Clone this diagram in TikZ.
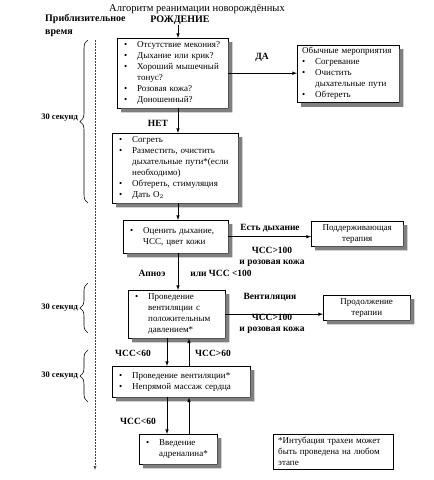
\documentclass[tikz,border=0pt]{standalone}
\usepackage{fontspec}
\setmainfont{Liberation Serif}
\usetikzlibrary{arrows,decorations.pathreplacing}

\newcommand{\blist}[1]{\begin{tabular}{@{}p{13pt}@{}l@{}}#1\end{tabular}}

\begin{document}
\begin{tikzpicture}[x=1pt,y=-1pt,>=latex,
    box/.style={draw,fill=white,anchor=north west,inner xsep=7pt,inner ysep=2pt,
      font=\fontsize{9}{11}\selectfont},
    shadowfill/.style={fill=black!50},
    lbl/.style={font=\fontsize{9.5}{11}\selectfont\bfseries,inner sep=0pt},
    brc/.style={decorate,decoration={brace,amplitude=8pt},semithick},
    flow/.style={->,semithick}]
    \useasboundingbox (0,0) rectangle (434,480);

    % heading
    \node[font=\fontsize{10.5}{12}\selectfont] (title) at (197,9) {Алгоритм реанимации новорождённых};
    \node[lbl,font=\fontsize{10}{13}\selectfont\bfseries,anchor=north west,align=left] (approx) at (45,14) {Приблизительное\\время};
    \node[lbl,font=\fontsize{10}{12}\selectfont\bfseries] (birth) at (180,20) {РОЖДЕНИЕ};

    % boxes
    \node[box,text width=97pt,minimum height=69pt] (obs) at (117,38) {\blist{%
      \textbullet & Отсутствие мекония?\\
      \textbullet & Дыхание или крик?\\
      \textbullet & Хороший мышечный\\
      & тонус?\\
      \textbullet & Розовая кожа?\\
      \textbullet & Доношенный?}};
    \node[box,text width=92pt,inner xsep=5pt,minimum height=57pt] (usual) at (297,45) {Обычные мероприятия\\\blist{%
      \textbullet & Согревание\\
      \textbullet & Очистить\\
      & дыхательные пути\\
      \textbullet & Обтереть}};
    \node[box,text width=112pt,minimum height=66pt] (warm) at (112,133) {\blist{%
      \textbullet & Согреть\\
      \textbullet & Разместить, очистить\\
      & дыхательные пути*(если\\
      & необходимо)\\
      \textbullet & Обтереть, стимуляция\\
      \textbullet & Дать O$_2$}};
    \node[box,text width=91pt,minimum height=33pt] (assess) at (123,220) {\blist{%
      \textbullet & Оценить дыхание,\\
      & ЧСС, цвет кожи}};
    \node[box,text width=78pt,minimum height=25pt,align=center] (support) at (311,221) {Поддерживающая\\терапия};
    \node[box,text width=83pt,minimum height=45pt] (ppv) at (128,290) {\blist{%
      \textbullet & Проведение\\
      & вентиляции с\\
      & положительным\\
      & давлением*}};
    \node[box,text width=73pt,minimum height=25pt,align=center] (cont) at (323,295) {Продолжение\\терапии};
    \node[box,text width=124pt,minimum height=31pt] (cpr) at (112,366) {\blist{%
      \textbullet & Проведение вентиляции*\\
      \textbullet & Непрямой массаж сердца}};
    \node[box,text width=64pt,minimum height=30pt] (adr) at (139,434) {\blist{%
      \textbullet & Введение\\
      & адреналина*}};
    \node[box,text width=110pt,inner xsep=5pt,minimum height=35pt] (note) at (273,434) {*Интубация трахеи может быть проведена на любом этапе};

    % shadows: L-shaped strips along the right and lower edges
    \foreach \bx in {obs,usual,warm,assess,support,ppv,cont,cpr,adr}
      \fill[shadowfill] ([xshift=4pt]\bx.south west) -- ([xshift=4pt,yshift=-4pt]\bx.south west)
        -- ([xshift=4pt,yshift=-4pt]\bx.south east) -- ([xshift=4pt,yshift=-4pt]\bx.north east)
        -- ([yshift=-4pt]\bx.north east) -- (\bx.south east) -- cycle;

    % connectors
    \coordinate (spine) at (178,0);
    \coordinate (dn) at (167,0);
    \coordinate (up) at (189,0);
    \draw[flow] (birth.south -| spine) -- (obs.north -| spine);
    \draw[flow] (obs.south -| spine) -- (warm.north -| spine);
    \draw[flow] (warm.south -| spine) -- (assess.north -| spine);
    \draw[flow] (assess.south -| spine) -- (ppv.north -| spine);
    \draw[flow] (obs.east) -- (obs.east -| usual.west);
    \draw[flow] (assess.east) -- (assess.east -| support.west);
    \draw[flow] (ppv.east) -- (ppv.east -| cont.west);
    \draw[flow] (ppv.south -| dn) -- (cpr.north -| dn);
    \draw[flow] (cpr.north -| up) -- (ppv.south -| up);
    \draw[flow] (cpr.south -| dn) -- (adr.north -| dn);
    \draw[flow] (adr.north -| up) -- (cpr.south -| up);

    % labels
    \node[lbl] (yes) at (262,57) {ДА};
    \node[lbl] (no) at (158,123) {НЕТ};
    \node[lbl] (breath) at (270,228) {Есть дыхание};
    \node[lbl,align=center] (ok1) at (272,257) {ЧСС>100\\и розовая кожа};
    \node[lbl] (apnea) at (152,273) {Апноэ};
    \node[lbl] (orhr) at (221,273) {или ЧСС <100};
    \node[lbl] (ventl) at (270,297) {Вентиляция};
    \node[lbl,align=center] (ok2) at (272,324) {ЧСС>100\\и розовая кожа};
    \node[lbl] (lt1) at (133,353) {ЧСС<60};
    \node[lbl] (gt1) at (213,353) {ЧСС>60};
    \node[lbl] (lt2) at (138,421) {ЧСС<60};

    % time line
    \coordinate (t0) at (95,40);
    \coordinate (t1) at (95,470);
    \draw[->,black!75,dash pattern=on 1.5pt off 1.5pt] (t0) -- (t1);
    \draw[brc] (88,203) -- (88,40);
    \draw[brc] (88,333) -- (88,283);
    \draw[brc] (88,402) -- (88,350);
    \node[lbl,font=\fontsize{8.5}{10}\selectfont\bfseries,anchor=east] (sec1) at (78,118) {30 секунд};
    \node[lbl,font=\fontsize{8.5}{10}\selectfont\bfseries,anchor=east] (sec2) at (78,308) {30 секунд};
    \node[lbl,font=\fontsize{8.5}{10}\selectfont\bfseries,anchor=east] (sec3) at (78,376) {30 секунд};
\end{tikzpicture}
\end{document}
